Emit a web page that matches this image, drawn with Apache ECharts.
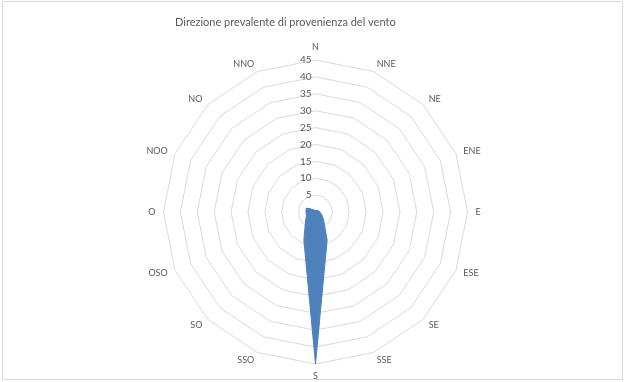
<!DOCTYPE html>
<html>
<head>
<meta charset="utf-8">
<script src="https://cdn.jsdelivr.net/npm/echarts@6/dist/echarts.min.js"></script>
<style>
  html, body { margin: 0; padding: 0; background: #ffffff; }
  #chart { width: 626px; height: 382px; }
</style>
</head>
<body>
<div id="chart"></div>
<script>
// Directions, clockwise from North (Italian labels)
var directions = ['N', 'NNE', 'NE', 'ENE', 'E', 'ESE', 'SE', 'SSE', 'S', 'SSO', 'SO', 'OSO', 'O', 'NOO', 'NO', 'NNO'];
// Values, same order as directions
var values = [0.5, 0.5, 0.7, 0.9, 1.3, 2.0, 3.4, 9.0, 45, 9.0, 4.2, 2.9, 2.8, 3.0, 1.0, 0.5];
var axisMax = 45;
var axisStep = 5;
var titleText = 'Direzione prevalente di provenienza del vento';

// ECharts radar places indicators counter-clockwise: reorder so they run clockwise
var order = [0];
for (var i = directions.length - 1; i >= 1; i--) order.push(i);
var indicators = order.map(function (k) { return { name: directions[k], max: axisMax, min: 0 }; });
var seriesValues = order.map(function (k) { return values[k]; });

var cx = 315.5, cy = 212, R = 152;
var textColor = '#595959';
var fontFam = 'Lato, "Open Sans", sans-serif';

var chart = echarts.init(document.getElementById('chart'), null, { renderer: 'canvas' });
chart.setOption({
  animation: false,
  backgroundColor: '#ffffff',
  title: {
    text: titleText,
    left: 170,
    top: 12,
    textStyle: { color: textColor, fontSize: 11, fontWeight: 'normal', fontFamily: fontFam }
  },
  graphic: [{
    type: 'rect',
    shape: { x: 2.5, y: 1.5, width: 620, height: 378 },
    style: { fill: 'none', stroke: '#d9d9d9', lineWidth: 1 },
    silent: true
  }],
  radar: {
    center: [cx, cy],
    radius: R,
    startAngle: 90,
    splitNumber: axisMax / axisStep,
    shape: 'polygon',
    indicator: indicators,
    nameGap: 8,
    axisName: { color: textColor, fontSize: 9, fontFamily: fontFam },
    axisLine: { show: false },
    axisTick: { show: false },
    axisLabel: { show: false },
    splitArea: { show: false },
    splitLine: { lineStyle: { color: '#d9d9d9', width: 1 } }
  },
  polar: { center: [cx, cy], radius: R },
  angleAxis: { type: 'value', startAngle: 90, min: 0, max: 360, show: false },
  radiusAxis: {
    type: 'value', min: 0, max: axisMax, interval: axisStep,
    axisLine: { show: false }, axisTick: { show: false }, splitLine: { show: false },
    axisLabel: { color: textColor, fontSize: 10, fontFamily: fontFam, margin: 4 }
  },
  series: [{
    type: 'radar',
    symbol: 'none',
    data: [{ value: seriesValues, name: 'Vento' }],
    lineStyle: { color: '#4f81bd', width: 1 },
    areaStyle: { color: '#4f81bd', opacity: 1 }
  }]
});
</script>
</body>
</html>
